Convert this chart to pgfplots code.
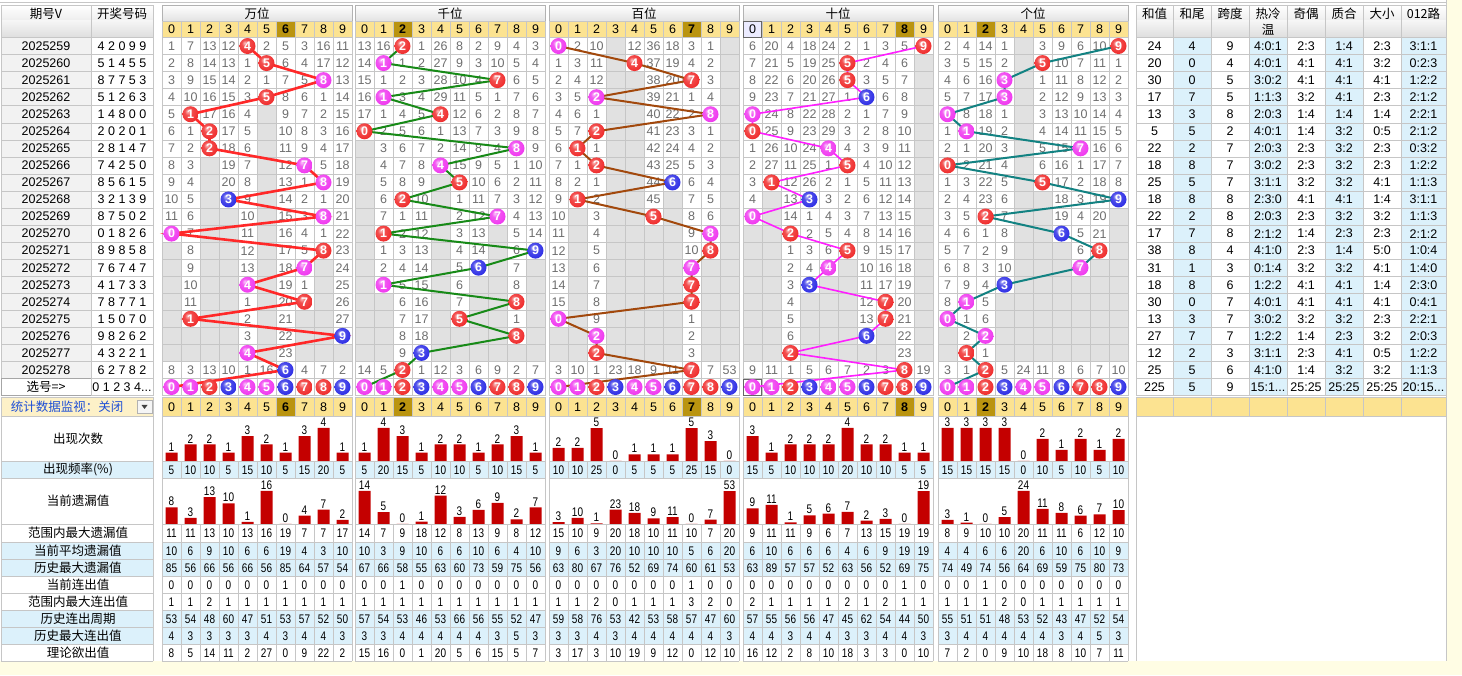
\documentclass[border=0pt]{standalone}
\usepackage{pgfplots}
\pgfplotsset{compat=1.18}
\usepackage{fontspec}
\setmainfont{Liberation Sans}
\newfontfamily\cjk{Noto Sans CJK SC}
\newfontfamily\narrow[FakeStretch=0.8]{Liberation Sans}

\definecolor{gridc}{HTML}{C6C6C6}
\definecolor{grayc}{HTML}{E1E1E1}
\definecolor{goldc}{HTML}{FCE391}
\definecolor{goldd}{HTML}{BA940F}
\definecolor{blueb}{HTML}{DCF1FB}
\definecolor{numc}{HTML}{6E6E6E}
\definecolor{paley}{HTML}{FFFDE4}
\definecolor{lgr}{HTML}{F2F2F2}
\definecolor{ballr}{HTML}{F03030}
\definecolor{ballm}{HTML}{F03CF0}
\definecolor{ballb}{HTML}{3232E6}
\definecolor{lnA}{HTML}{FF2828}
\definecolor{lnB}{HTML}{178A17}
\definecolor{lnC}{HTML}{A2480C}
\definecolor{lnD}{HTML}{FF1EFF}
\definecolor{lnE}{HTML}{128282}
\definecolor{barc}{HTML}{C40000}
\definecolor{hdrblue}{HTML}{1E4FD6}

\makeatletter
\pgfdeclareradialshading[tikz@ball]{lball}{\pgfqpoint{-9bp}{10bp}}{%
 color(0bp)=(tikz@ball!30!white); color(11bp)=(tikz@ball!85!white);
 color(28bp)=(tikz@ball); color(42bp)=(tikz@ball!88!black); color(62bp)=(tikz@ball!70!black)}
\makeatother

% draws per position (rows 2025259..2025278)
\expandafter\def\csname dr0\endcsname{{4,5,8,5,1,2,2,7,8,3,8,0,8,7,4,7,1,9,4,6}}
\expandafter\def\csname dr1\endcsname{{2,1,7,1,4,0,8,4,5,2,7,1,9,6,1,8,5,8,3,2}}
\expandafter\def\csname dr2\endcsname{{0,4,7,2,8,2,1,2,6,1,5,8,8,7,7,7,0,2,2,7}}
\expandafter\def\csname dr3\endcsname{{9,5,5,6,0,0,4,5,1,3,0,2,5,4,3,7,7,6,2,8}}
\expandafter\def\csname dr4\endcsname{{9,5,3,3,0,1,7,0,5,9,2,6,8,7,3,1,0,2,1,2}}
% omission values in the first row
\expandafter\def\csname om0\endcsname{{1,7,13,12,0,2,5,3,16,11}}
\expandafter\def\csname om1\endcsname{{13,16,0,1,26,8,2,9,4,3}}
\expandafter\def\csname om2\endcsname{{0,2,10,4,12,36,18,3,1,34}}
\expandafter\def\csname om3\endcsname{{6,20,4,18,24,2,1,3,5,0}}
\expandafter\def\csname om4\endcsname{{2,4,14,1,5,3,9,6,10,0}}

\def\sFreq{5,10,10,5,15,10,5,15,20,5,5,20,15,5,10,10,5,10,15,5,10,10,25,0,5,5,5,25,15,0,15,5,10,10,10,20,10,10,5,5,15,15,15,15,0,10,5,10,5,10}
\def\sRMO{11,11,13,10,13,16,19,7,7,17,14,7,9,18,12,8,13,9,8,12,15,10,9,20,18,10,11,10,7,20,9,11,11,9,6,7,13,15,19,19,8,9,10,10,20,11,11,6,12,10}
\def\sAvg{10,6,9,10,6,6,19,4,3,10,10,3,9,10,6,6,10,6,4,10,9,6,3,20,10,10,10,5,6,20,6,10,6,6,6,4,6,9,19,19,4,4,6,6,20,6,10,6,10,9}
\def\sHMO{85,56,66,56,66,56,85,64,57,54,67,66,58,55,63,60,73,59,75,56,63,80,67,76,52,69,74,60,61,53,63,89,57,57,52,63,56,52,69,75,74,49,74,56,64,69,59,75,80,73}
\def\sCur{0,0,0,0,0,0,1,0,0,0,0,0,1,0,0,0,0,0,0,0,0,0,0,0,0,0,0,1,0,0,0,0,0,0,0,0,0,0,1,0,0,0,1,0,0,0,0,0,0,0}
\def\sRMR{1,1,2,1,1,1,1,1,1,1,1,1,1,1,1,1,1,1,1,1,1,1,2,0,1,1,1,3,2,0,2,1,1,1,1,2,1,2,1,1,1,1,1,2,0,1,1,1,1,1}
\def\sCyc{53,54,48,60,47,51,53,57,52,50,57,54,53,46,53,66,56,55,52,47,59,58,76,53,42,53,58,57,47,60,57,55,56,56,47,45,62,54,44,50,55,51,51,48,53,52,43,47,52,54}
\def\sHMR{4,3,3,3,3,4,3,4,4,3,3,3,4,4,4,4,4,3,5,3,3,3,4,3,4,4,4,4,4,3,4,4,3,4,4,3,3,4,4,3,3,4,4,4,4,4,3,4,5,3}
\def\sTh{8,5,14,11,2,27,0,9,22,2,15,16,0,1,20,5,6,15,5,7,3,17,3,10,19,9,12,0,12,10,16,12,2,8,10,18,3,3,0,10,7,2,0,9,10,18,8,10,7,11}

\tikzset{
 numtxt/.style={font=\fontsize{12.5}{13}\selectfont, text=numc, inner sep=0pt},
 stxt/.style={font=\narrow\fontsize{12.5}{13}\selectfont, inner sep=0pt},
 ctxt/.style={font=\cjk\fontsize{12.5}{13}\selectfont, inner sep=0pt},
 btxt/.style={font=\fontsize{12.5}{13}\selectfont, inner sep=0pt},
}
\pgfplotsset{
 ballplot/.style={draw=none, mark=none, point meta=explicit symbolic,
  nodes near coords={\pgfplotspointmeta},
  nodes near coords align={anchor=center},
  every node near coord/.append style={anchor=center, circle, inner sep=0pt, minimum size=16pt, ball color=#1, shading=lball, text=white, font=\bfseries\fontsize{12.5}{13}\selectfont}},
 panelax/.style={scale only axis, hide axis, clip=false, width=190pt, height=358.05pt,
  xmin=-0.5, xmax=9.5, ymin=-0.5, ymax=20.5, y dir=reverse, anchor=south west, at={(#1pt,279.45pt)}},
 barax/.style n args={3}{scale only axis, hide axis, clip=false, width=190pt, height=33pt,
  xmin=-0.5, xmax=9.5, ymin=0, ymax=#3, anchor=south west, at={(#1pt,#2pt)},
  ybar, bar width=12pt, nodes near coords, /pgf/number format/assume math mode=true,
  every node near coord/.append style={inner sep=1.2pt, font=\narrow\fontsize{12.5}{13}\selectfont, text=black}},
}
% balls of the selection row (选号)
\newcommand\selballs{%
\addplot[ballplot=ballr] coordinates {(2,20)[2] (7,20)[7] (8,20)[8]};
\addplot[ballplot=ballm] coordinates {(0,20)[0] (1,20)[1] (4,20)[4] (5,20)[5]};
\addplot[ballplot=ballb] coordinates {(3,20)[3] (6,20)[6] (9,20)[9]};
}

\newcommand\statrow[2]{%
  \foreach \vv [count=\ii from 0] in #2 {%
    \pgfmathtruncatemacro\pp{floor(\ii/10)}%
    \pgfmathsetmacro\xx{{162,355,549,743,938}[\pp]+19*(\ii-10*\pp)+9.5}%
    \node[stxt] at (\xx,#1) {\vv};
  }}

\begin{document}
\begin{tikzpicture}
\useasboundingbox (0,0) rectangle (1462pt,675pt);
\begin{scope}[x=1pt,y=-1pt,yshift=675pt]
\fill[white] (0,0) rectangle (1462,675);
\fill[paley] (1446,0) rectangle (1462,675);
\fill[paley] (0,661) rectangle (1446,675);
\draw[gridc] (0,2.5) -- (1446,2.5);
\draw[gridc] (1446,0) -- (1446,661);

% ---------- left header
\shade[top color=white,bottom color=gray!14] (1,5) rectangle (153,21);
\shade[top color=gray!8,bottom color=gray!26] (1,21) rectangle (153,37.5);
\draw[gridc] (1,5) rectangle (91,37.5) (91,5) rectangle (153,37.5);
\node[ctxt] at (46,14) {期号V};
\node[ctxt] at (122,14) {开奖号码};

\foreach \r/\nn in {0/4 2 0 9 9,1/5 1 4 5 5,2/8 7 7 5 3,3/5 1 2 6 3,4/1 4 8 0 0,5/2 0 2 0 1,6/2 8 1 4 7,7/7 4 2 5 0,8/8 5 6 1 5,9/3 2 1 3 9,10/8 7 5 0 2,11/0 1 8 2 6,12/8 9 8 5 8,13/7 6 7 4 7,14/4 1 7 3 3,15/7 8 7 7 1,16/1 5 0 7 0,17/9 8 2 6 2,18/4 3 2 2 1,19/6 2 7 8 2}{
  \pgfmathsetmacro\yt{37.5+17.05*\r}
  \edef\per{\the\numexpr 2025259+\r\relax}
  \fill[lgr] (1,\yt) rectangle (91,\yt+17.05);
  \draw[gridc] (1,\yt) rectangle (91,\yt+17.05) (91,\yt) rectangle (153,\yt+17.05);
  \node[btxt] at (46,\yt+8.6) {\per};
  \node[btxt] at (122,\yt+8.6) {\nn};
}
\draw[gray!70] (1,378.5) rectangle (91,395.55);
\draw[gridc] (91,378.5) rectangle (153,395.55);
\node[ctxt] at (46,387) {选号=>};
\node[btxt] at (122,387.3) {0 1 2 3 4...};

% ---------- omission grid (gray layers and numbers)
\foreach \p/\xs in {0/162,1/355,2/549,3/743,4/938}{
  \expandafter\let\expandafter\DR\csname dr\p\endcsname
  \expandafter\let\expandafter\OM\csname om\p\endcsname
  \foreach \d in {0,...,9}{
    \xdef\lasthit{-1}
    \foreach \r in {0,...,19}{
      \pgfmathtruncatemacro\vv{\DR[\r]}
      \ifnum\vv=\d\relax\xdef\lasthit{\r}\fi
    }
    \pgfmathtruncatemacro\ov{\OM[\d]-1}
    \xdef\cur{\ov}
    \pgfmathsetmacro\cx{\xs+19*\d+9.5}
    \foreach \r in {0,...,19}{
      \pgfmathtruncatemacro\vv{\DR[\r]}
      \pgfmathsetmacro\yt{37.5+17.05*\r}
      \ifnum\vv=\d\relax
        \xdef\cur{0}
      \else
        \pgfmathtruncatemacro\nc{\cur+1}
        \xdef\cur{\nc}
        \pgfmathtruncatemacro\shw{(\r<\lasthit+1)||(\r==19)}
        \ifnum\shw=1\relax
          \node[numtxt] at (\cx,\yt+8.6) {\cur};
        \else
          \fill[grayc] (\cx-9.5,\yt) rectangle (\cx+9.5,\yt+17.05);
        \fi
      \fi
    }
  }
}

% ---------- panel grids and headers
\foreach \xs/\hd/\nm in {162/6/万位,355/2/千位,549/7/百位,743/8/十位,938/2/个位}{
  \shade[top color=white,bottom color=gray!22] (\xs,5) rectangle (\xs+190,21);
  \draw[gray!60] (\xs,5) rectangle (\xs+190,21);
  \node[ctxt] at (\xs+95,13.5) {\nm};
  \fill[goldc] (\xs,21) rectangle (\xs+190,37.5);
  \fill[goldd] (\xs+19*\hd,21) rectangle (\xs+19*\hd+19,37.5);
  \foreach \k in {0,...,10} \draw[gridc] (\xs+19*\k,21) -- (\xs+19*\k,395.55);
  \foreach \r in {0,...,21} \draw[gridc] (\xs,37.5+17.05*\r) -- (\xs+190,37.5+17.05*\r);
  \draw[gridc] (\xs,21) -- (\xs+190,21);
  \foreach \k in {0,...,9}{
    \ifnum\k=\hd\relax
      \node[btxt,font=\bfseries\fontsize{12.5}{13}\selectfont] at (\xs+19*\k+9.5,29.5) {\k};
    \else
      \node[btxt] at (\xs+19*\k+9.5,29.5) {\k};
    \fi
  }
}
\fill[blue!8] (743.5,21.5) rectangle (761.5,37);
\draw[gray!80!black] (743.5,21.5) rectangle (761.5,37);
\node[btxt] at (752.5,29.5) {0};
\draw[gray!80!black] (743.5,379) rectangle (761.5,395);

% ---------- right section
\fill[blueb] (1173,37.5) rectangle (1211,395.55);
\fill[blueb] (1249,37.5) rectangle (1287,395.55);
\fill[blueb] (1325,37.5) rectangle (1363,395.55);
\fill[blueb] (1401,37.5) rectangle (1446,395.55);
\shade[top color=white,bottom color=gray!14] (1136,5) rectangle (1446,21);
\shade[top color=gray!8,bottom color=gray!26] (1136,21) rectangle (1446,37.5);
\foreach \x in {1136,1173,1211,1249,1287,1325,1363,1401,1446} \draw[gridc] (\x,5) -- (\x,395.55);
\draw[gridc] (1136,5) -- (1446,5);
\foreach \r in {0,...,21} \draw[gridc] (1136,37.5+17.05*\r) -- (1446,37.5+17.05*\r);
\foreach \x/\t in {1154.5/和值,1192/和尾,1230/跨度,1268/热冷,1306/奇偶,1344/质合,1382/大小,1423.5/012路}
  \node[ctxt] at (\x,14) {\t};
\node[ctxt] at (1268,30) {温};
\foreach \r/\ca/\cb/\cc/\cd/\ce/\cf/\cg/\ch in {
0/24/4/9/4:0:1/2:3/1:4/2:3/3:1:1,
1/20/0/4/4:0:1/4:1/4:1/3:2/0:2:3,
2/30/0/5/3:0:2/4:1/4:1/4:1/1:2:2,
3/17/7/5/1:1:3/3:2/4:1/2:3/2:1:2,
4/13/3/8/2:0:3/1:4/1:4/1:4/2:2:1,
5/5/5/2/4:0:1/1:4/3:2/0:5/2:1:2,
6/22/2/7/2:0:3/2:3/3:2/2:3/0:3:2,
7/18/8/7/3:0:2/2:3/3:2/2:3/1:2:2,
8/25/5/7/3:1:1/3:2/3:2/4:1/1:1:3,
9/18/8/8/2:3:0/4:1/4:1/1:4/3:1:1,
10/22/2/8/2:0:3/2:3/3:2/3:2/1:1:3,
11/17/7/8/2:1:2/1:4/2:3/2:3/2:1:2,
12/38/8/4/4:1:0/2:3/1:4/5:0/1:0:4,
13/31/1/3/0:1:4/3:2/3:2/4:1/1:4:0,
14/18/8/6/1:2:2/4:1/4:1/1:4/2:3:0,
15/30/0/7/4:0:1/4:1/4:1/4:1/0:4:1,
16/13/3/7/3:0:2/3:2/3:2/2:3/2:2:1,
17/27/7/7/1:2:2/1:4/2:3/3:2/2:0:3,
18/12/2/3/3:1:1/2:3/4:1/0:5/1:2:2,
19/25/5/6/4:1:0/1:4/3:2/3:2/1:1:3}{
  \pgfmathsetmacro\yc{46.1+17.05*\r}
  \node[btxt] at (1154.5,\yc) {\ca};
  \node[btxt] at (1192,\yc) {\cb};
  \node[btxt] at (1230,\yc) {\cc};
  \node[btxt] at (1268,\yc) {\cd};
  \node[btxt] at (1306,\yc) {\ce};
  \node[btxt] at (1344,\yc) {\cf};
  \node[btxt] at (1382,\yc) {\cg};
  \node[btxt] at (1423.5,\yc) {\ch};
}
\node[btxt] at (1154.5,387.1) {225};
\node[btxt] at (1192,387.1) {5};
\node[btxt] at (1230,387.1) {9};
\node[btxt] at (1268,387.1) {15:1...};
\node[btxt] at (1306,387.1) {25:25};
\node[btxt] at (1344,387.1) {25:25};
\node[btxt] at (1382,387.1) {25:25};
\node[btxt] at (1423.5,387.1) {20:15...};
\fill[goldc] (1136,397) rectangle (1446,416);
\foreach \x in {1136,1173,1211,1249,1287,1325,1363,1401,1446} \draw[gridc] (\x,397) -- (\x,416);
\draw[gridc] (1136,397) -- (1446,397) (1136,416) -- (1446,416);
\draw[gridc] (1136,416) -- (1136,661);

% ---------- statistics section
\foreach \ya/\yb in {461/478,542/559,559/576,610/627,627/644}{
  \fill[blueb] (1,\ya) rectangle (153,\yb);
  \foreach \xs in {162,355,549,743,938} \fill[blueb] (\xs,\ya) rectangle (\xs+190,\yb);
}
\fill[goldc!50!white] (1,397) rectangle (153,416);
\draw[gray!60,fill=gray!8] (137,400) rectangle (152,413);
\fill[black!75] (141.5,405) -- (147.5,405) -- (144.5,409) -- cycle;
\node[ctxt,text=hdrblue] at (67,406.5) {统计数据监视：关闭};
\foreach \xs/\hd in {162/6,355/2,549/7,743/8,938/2}{
  \fill[goldc] (\xs,397) rectangle (\xs+190,416);
  \fill[goldd] (\xs+19*\hd,397) rectangle (\xs+19*\hd+19,416);
  \foreach \k in {0,...,9}{
    \ifnum\k=\hd\relax
      \node[btxt,font=\bfseries\fontsize{12.5}{13}\selectfont] at (\xs+19*\k+9.5,407) {\k};
    \else
      \node[btxt] at (\xs+19*\k+9.5,407) {\k};
    \fi
  }
  \foreach \k in {0,...,10}{
    \draw[gridc] (\xs+19*\k,397) -- (\xs+19*\k,416);
    \draw[gridc] (\xs+19*\k,461) -- (\xs+19*\k,478);
    \draw[gridc] (\xs+19*\k,524) -- (\xs+19*\k,661);
  }
  \draw[gridc] (\xs,397) -- (\xs,661) (\xs+190,397) -- (\xs+190,661);
}
\foreach \y in {397,416,461,478,524,542,559,576,593,610,627,644,661}{
  \draw[gridc] (1,\y) -- (153,\y);
  \foreach \xs in {162,355,549,743,938} \draw[gridc] (\xs,\y) -- (\xs+190,\y);
}
\draw[gridc] (1,397) -- (1,661) (153,397) -- (153,661);
\foreach \y/\t in {438.5/出现次数,469.5/出现频率(\%),501/当前遗漏值,533/范围内最大遗漏值,550.5/当前平均遗漏值,567.5/历史最大遗漏值,584.5/当前连出值,601.5/范围内最大连出值,618.5/历史连出周期,635.5/历史最大连出值,652.5/理论欲出值}
  \node[ctxt] at (78,\y) {\t};
\statrow{470}{\sFreq}
\statrow{533.3}{\sRMO}
\statrow{550.8}{\sAvg}
\statrow{567.8}{\sHMO}
\statrow{584.8}{\sCur}
\statrow{601.8}{\sRMR}
\statrow{618.8}{\sCyc}
\statrow{635.8}{\sHMR}
\statrow{652.8}{\sTh}
\end{scope}

% ---------- trend panels: winning digits as balls joined by lines
\begin{axis}[panelax=162]
\selballs
\addplot[lnA, line width=2.6pt] coordinates {(4,0)(5,1)(8,2)(5,3)(1,4)(2,5)(2,6)(7,7)(8,8)(3,9)(8,10)(0,11)(8,12)(7,13)(4,14)(7,15)(1,16)(9,17)(4,18)(6,19)(0,20)};
\addplot[ballplot=ballr] coordinates {(4,0)[4] (5,1)[5] (5,3)[5] (1,4)[1] (2,5)[2] (2,6)[2] (8,12)[8] (7,15)[7] (1,16)[1]};
\addplot[ballplot=ballm] coordinates {(8,2)[8] (7,7)[7] (8,8)[8] (8,10)[8] (0,11)[0] (7,13)[7] (4,14)[4] (4,18)[4]};
\addplot[ballplot=ballb] coordinates {(3,9)[3] (9,17)[9] (6,19)[6]};
\end{axis}
\begin{axis}[panelax=355]
\selballs
\addplot[lnB, line width=2pt] coordinates {(2,0)(1,1)(7,2)(1,3)(4,4)(0,5)(8,6)(4,7)(5,8)(2,9)(7,10)(1,11)(9,12)(6,13)(1,14)(8,15)(5,16)(8,17)(3,18)(2,19)(0,20)};
\addplot[ballplot=ballr] coordinates {(2,0)[2] (7,2)[7] (4,4)[4] (0,5)[0] (5,8)[5] (2,9)[2] (1,11)[1] (8,15)[8] (5,16)[5] (8,17)[8] (2,19)[2]};
\addplot[ballplot=ballm] coordinates {(1,1)[1] (1,3)[1] (8,6)[8] (4,7)[4] (7,10)[7] (1,14)[1]};
\addplot[ballplot=ballb] coordinates {(9,12)[9] (6,13)[6] (3,18)[3]};
\end{axis}
\begin{axis}[panelax=549]
\selballs
\addplot[lnC, line width=2pt] coordinates {(0,0)(4,1)(7,2)(2,3)(8,4)(2,5)(1,6)(2,7)(6,8)(1,9)(5,10)(8,11)(8,12)(7,13)(7,14)(7,15)(0,16)(2,17)(2,18)(7,19)(0,20)};
\addplot[ballplot=ballr] coordinates {(4,1)[4] (7,2)[7] (2,5)[2] (1,6)[1] (2,7)[2] (1,9)[1] (5,10)[5] (8,12)[8] (7,14)[7] (7,15)[7] (2,18)[2] (7,19)[7]};
\addplot[ballplot=ballm] coordinates {(0,0)[0] (2,3)[2] (8,4)[8] (8,11)[8] (7,13)[7] (0,16)[0] (2,17)[2]};
\addplot[ballplot=ballb] coordinates {(6,8)[6]};
\end{axis}
\begin{axis}[panelax=743]
\selballs
\addplot[lnD, line width=1.6pt] coordinates {(9,0)(5,1)(5,2)(6,3)(0,4)(0,5)(4,6)(5,7)(1,8)(3,9)(0,10)(2,11)(5,12)(4,13)(3,14)(7,15)(7,16)(6,17)(2,18)(8,19)(0,20)};
\addplot[ballplot=ballr] coordinates {(9,0)[9] (5,1)[5] (5,2)[5] (0,5)[0] (5,7)[5] (1,8)[1] (2,11)[2] (5,12)[5] (7,15)[7] (7,16)[7] (2,18)[2] (8,19)[8]};
\addplot[ballplot=ballm] coordinates {(0,4)[0] (4,6)[4] (0,10)[0] (4,13)[4]};
\addplot[ballplot=ballb] coordinates {(6,3)[6] (3,9)[3] (3,14)[3] (6,17)[6]};
\end{axis}
\begin{axis}[panelax=938]
\selballs
\addplot[lnE, line width=2pt] coordinates {(9,0)(5,1)(3,2)(3,3)(0,4)(1,5)(7,6)(0,7)(5,8)(9,9)(2,10)(6,11)(8,12)(7,13)(3,14)(1,15)(0,16)(2,17)(1,18)(2,19)(0,20)};
\addplot[ballplot=ballr] coordinates {(9,0)[9] (5,1)[5] (0,7)[0] (5,8)[5] (2,10)[2] (8,12)[8] (1,18)[1] (2,19)[2]};
\addplot[ballplot=ballm] coordinates {(3,2)[3] (3,3)[3] (0,4)[0] (1,5)[1] (7,6)[7] (7,13)[7] (1,15)[1] (0,16)[0] (2,17)[2]};
\addplot[ballplot=ballb] coordinates {(9,9)[9] (6,11)[6] (3,14)[3]};
\end{axis}

% ---------- 出现次数 bars
\begin{axis}[barax={162}{214}{4}]
\addplot[fill=barc, draw=none] coordinates {(0,1)(1,2)(2,2)(3,1)(4,3)(5,2)(6,1)(7,3)(8,4)(9,1)};
\end{axis}
\begin{axis}[barax={355}{214}{4}]
\addplot[fill=barc, draw=none] coordinates {(0,1)(1,4)(2,3)(3,1)(4,2)(5,2)(6,1)(7,2)(8,3)(9,1)};
\end{axis}
\begin{axis}[barax={549}{214}{5}]
\addplot[fill=barc, draw=none] coordinates {(0,2)(1,2)(2,5)(3,0)(4,1)(5,1)(6,1)(7,5)(8,3)(9,0)};
\end{axis}
\begin{axis}[barax={743}{214}{4}]
\addplot[fill=barc, draw=none] coordinates {(0,3)(1,1)(2,2)(3,2)(4,2)(5,4)(6,2)(7,2)(8,1)(9,1)};
\end{axis}
\begin{axis}[barax={938}{214}{3}]
\addplot[fill=barc, draw=none] coordinates {(0,3)(1,3)(2,3)(3,3)(4,0)(5,2)(6,1)(7,2)(8,1)(9,2)};
\end{axis}
% ---------- 当前遗漏值 bars
\begin{axis}[barax={162}{151}{16}]
\addplot[fill=barc, draw=none] coordinates {(0,8)(1,3)(2,13)(3,10)(4,1)(5,16)(6,0)(7,4)(8,7)(9,2)};
\end{axis}
\begin{axis}[barax={355}{151}{14}]
\addplot[fill=barc, draw=none] coordinates {(0,14)(1,5)(2,0)(3,1)(4,12)(5,3)(6,6)(7,9)(8,2)(9,7)};
\end{axis}
\begin{axis}[barax={549}{151}{53}]
\addplot[fill=barc, draw=none] coordinates {(0,3)(1,10)(2,1)(3,23)(4,18)(5,9)(6,11)(7,0)(8,7)(9,53)};
\end{axis}
\begin{axis}[barax={743}{151}{19}]
\addplot[fill=barc, draw=none] coordinates {(0,9)(1,11)(2,1)(3,5)(4,6)(5,7)(6,2)(7,3)(8,0)(9,19)};
\end{axis}
\begin{axis}[barax={938}{151}{24}]
\addplot[fill=barc, draw=none] coordinates {(0,3)(1,1)(2,0)(3,5)(4,24)(5,11)(6,8)(7,6)(8,7)(9,10)};
\end{axis}
\end{tikzpicture}
\end{document}
